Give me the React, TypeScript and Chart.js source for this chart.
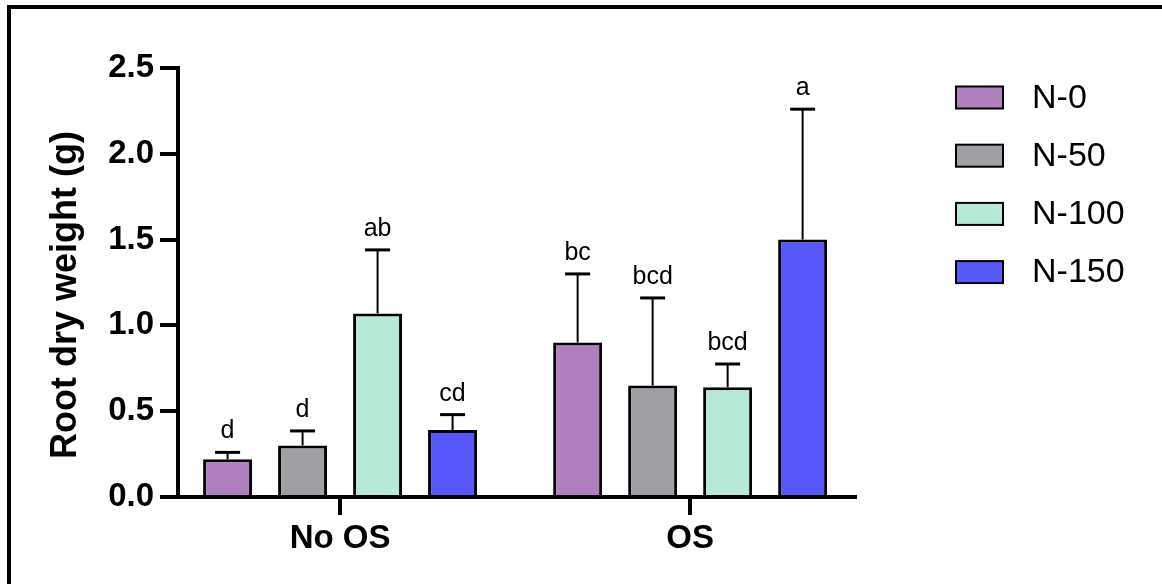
import React, { useEffect, useRef } from 'react';
import { Chart, registerables } from 'chart.js';

Chart.register(...registerables);

// ---- data ----
const GROUPS = ['No OS', 'OS'];
const SERIES = ['N-0', 'N-50', 'N-100', 'N-150'];
const N0 = [0.22, 0.9];
const N50 = [0.3, 0.65];
const N100 = [1.07, 0.64];
const N150 = [0.39, 1.5];
const N0_SD = [0.04, 0.4];
const N50_SD = [0.085, 0.51];
const N100_SD = [0.37, 0.135];
const N150_SD = [0.09, 0.76];
const N0_SIG = ['d', 'bc'];
const N50_SIG = ['d', 'bcd'];
const N100_SIG = ['ab', 'bcd'];
const N150_SIG = ['cd', 'a'];
const Y_TICKS = [0, 0.5, 1.0, 1.5, 2.0, 2.5];
const Y_TITLE = 'Root dry weight (g)';

const VALUES = [N0, N50, N100, N150];
const ERRORS = [N0_SD, N50_SD, N100_SD, N150_SD];
const LETTERS = [N0_SIG, N50_SIG, N100_SIG, N150_SIG];
const COLORS = ['#B07FBE', '#A09FA4', '#B6E9D6', '#5757FA'];

const FONT = "'Liberation Sans', Arial, Helvetica, sans-serif";

const decorPlugin = {
  id: 'decor',
  afterDraw(chart: any) {
    const ctx = chart.ctx;
    const yScale = chart.scales.y;
    ctx.save();
    // frame
    ctx.fillStyle = '#000';
    ctx.fillRect(7, 5, chart.width - 7, 4);
    ctx.fillRect(7, 5, 4, chart.height - 5);

    // error bars + letters
    VALUES.forEach((vals, d) => {
      const meta = chart.getDatasetMeta(d);
      meta.data.forEach((el: any, i: number) => {
        const top = yScale.getPixelForValue(vals[i] + ERRORS[d][i]);
        ctx.strokeStyle = '#000';
        ctx.lineWidth = 2;
        ctx.beginPath();
        ctx.moveTo(el.x, el.y);
        ctx.lineTo(el.x, top);
        ctx.stroke();
        ctx.lineWidth = 3;
        ctx.beginPath();
        ctx.moveTo(el.x - 12.5, top);
        ctx.lineTo(el.x + 12.5, top);
        ctx.stroke();
        ctx.fillStyle = '#000';
        ctx.font = `25px ${FONT}`;
        ctx.textAlign = 'center';
        ctx.textBaseline = 'alphabetic';
        ctx.fillText(LETTERS[d][i], el.x, top - 14);
      });
    });

    // y title
    ctx.save();
    ctx.translate(66, 295);
    ctx.rotate(-Math.PI / 2);
    ctx.font = `bold 36px ${FONT}`;
    ctx.textAlign = 'center';
    ctx.textBaseline = 'middle';
    ctx.fillStyle = '#000';
    ctx.fillText(Y_TITLE, 0, 0);
    ctx.restore();

    // legend
    SERIES.forEach((name, k) => {
      const cy = 97.5 + k * 58.2;
      ctx.fillStyle = COLORS[k];
      ctx.fillRect(956, cy - 11, 47, 22);
      ctx.strokeStyle = '#000';
      ctx.lineWidth = 2;
      ctx.strokeRect(956, cy - 11, 47, 22);
      ctx.fillStyle = '#000';
      ctx.font = `34px ${FONT}`;
      ctx.textAlign = 'left';
      ctx.textBaseline = 'middle';
      ctx.fillText(name, 1032, cy + 1);
    });
    ctx.restore();
  },
};

export default function App() {
  const ref = useRef<HTMLCanvasElement>(null);
  useEffect(() => {
    if (!ref.current) return;
    const chart = new Chart(ref.current, {
      type: 'bar',
      data: {
        datasets: SERIES.map((name, d) => ({
          label: name,
          data: VALUES[d].map((v, i) => ({ x: i, y: v })),
          backgroundColor: COLORS[d],
          borderColor: '#000',
          borderWidth: 3,
          categoryPercentage: 0.857,
          barPercentage: 0.653,
        })),
      },
      options: {
        responsive: false,
        animation: false,
        layout: { padding: { left: 0, top: 68, right: 307, bottom: 0 } },
        plugins: { legend: { display: false }, tooltip: { enabled: false } },
        scales: {
          x: {
            type: 'linear',
            min: -0.463,
            max: 1.471,
            offset: false,
            afterBuildTicks: (s: any) => {
              s.ticks = GROUPS.map((_, i) => ({ value: i }));
            },
            afterFit: (s: any) => {
              s.height = 87;
            },
            grid: {
              offset: false,
              drawOnChartArea: false,
              drawTicks: true,
              tickLength: 18,
              tickWidth: 4,
              lineWidth: 4,
              color: '#000',
            },
            border: { display: true, color: '#000', width: 4 },
            ticks: {
              autoSkip: false,
              maxRotation: 0,
              padding: 4,
              color: '#000',
              font: { family: FONT, size: 33, weight: 'bold' },
              callback: (v: any) => GROUPS[v] ?? '',
            },
          },
          y: {
            min: 0,
            max: 2.5,
            afterBuildTicks: (s: any) => {
              s.ticks = Y_TICKS.map((v) => ({ value: v }));
            },
            afterFit: (s: any) => {
              s.width = 178;
            },
            grid: {
              drawOnChartArea: false,
              drawTicks: true,
              tickLength: 18,
              tickWidth: 4,
              lineWidth: 4,
              color: '#000',
            },
            border: { display: true, color: '#000', width: 4 },
            ticks: {
              padding: 6,
              color: '#000',
              font: { family: FONT, size: 33, weight: 'bold' },
              callback: (v: any) => Number(v).toFixed(1),
            },
          },
        },
      },
      plugins: [decorPlugin],
    } as any);
    return () => chart.destroy();
  }, []);
  return (
    <div style={{ position: 'fixed', left: 0, top: 0, width: 1162, height: 584, background: '#fff' }}>
      <canvas ref={ref} width={1162} height={584} style={{ display: 'block' }} />
    </div>
  );
}
